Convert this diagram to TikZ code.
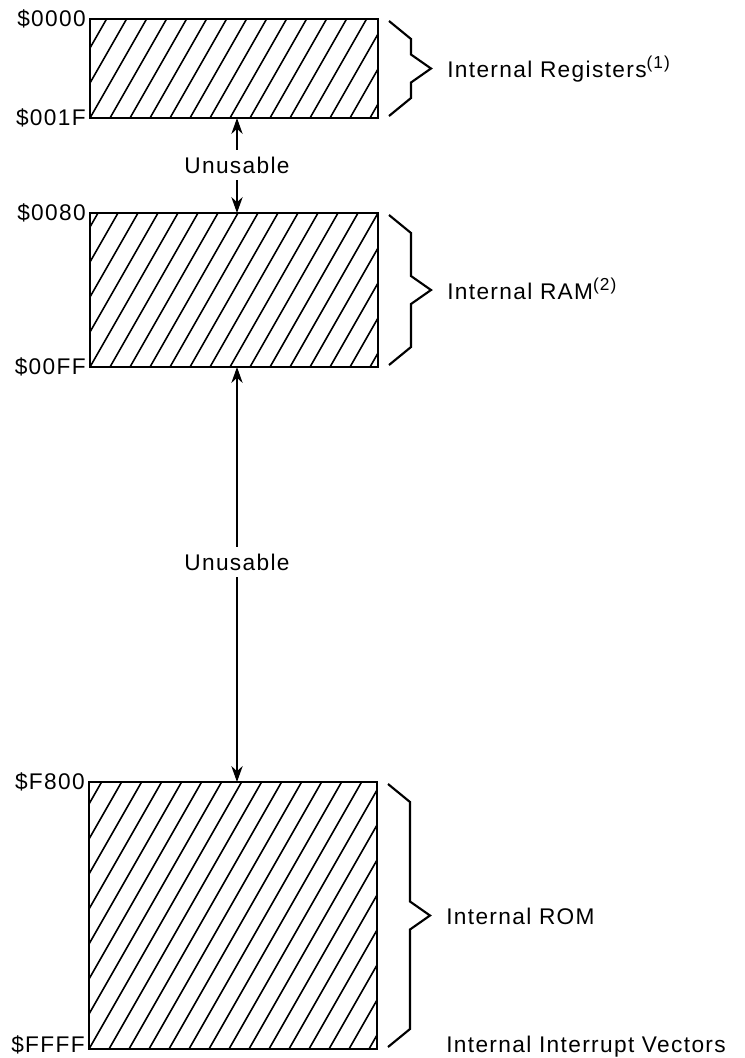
\documentclass[tikz,border=0pt]{standalone}
\usepackage{fontspec}
\setmainfont{Liberation Sans}[LetterSpace=6]
\usepackage{tikz}
\usetikzlibrary{positioning,calc,arrows.meta}
\tikzset{
  % --- memory blocks with diagonal hatching ---
  membox/.style={draw=black, line width=2pt, rectangle, inner sep=0pt,
                 outer sep=0pt, minimum width=216pt, anchor=north west,
                 hatched},
  hatched/.style={path picture={
      \foreach \k in {-9,...,15}
        \draw[line width=1.2pt]
          ([xshift=\k*15pt]path picture bounding box.south west)
          -- ++(120pt,210pt);}},
  % --- address labels and range texts ---
  addr/.style={anchor=east, inner sep=0pt, xshift=-3pt},
  rangetext/.style={anchor=base west, inner sep=0pt},
  gaptext/.style={inner sep=5pt},
  % --- angular braces and the unusable gaps ---
  brace/.style={line width=1.6pt, line join=miter},
  gaparrow/.style={line width=0.9pt, -{Stealth[length=12pt,width=8.5pt]}},
}
% note number raised after a range text
\newcommand{\noteref}[1]{\raisebox{6.5pt}{\fontsize{13}{13}\selectfont(#1)}}
% angular brace on the right of a memory block, tip named <block>-tip
\newcommand{\membrace}[1]{%
  \draw[brace] ([shift={(11,2)}]#1.north east)
    -- ([shift={(33,20)}]#1.north east)
    -- ([shift={(33,-14)}]#1.east)
    -- ([shift={(53,0)}]#1.east) coordinate (#1-tip)
    -- ([shift={(33,14)}]#1.east)
    -- ([shift={(33,-20)}]#1.south east)
    -- ([shift={(11,-2)}]#1.south east);}

\begin{document}
\begin{tikzpicture}[x=0.75pt, y=-0.75pt, font=\fontsize{17}{20}\selectfont]
  \useasboundingbox (0,0) rectangle (744,1058);

  % --- the three blocks ---
  \node[membox, minimum height=74.25pt]  (regs) at (90,19)  {};
  \node[membox, minimum height=115.5pt]  (ram)  at (90,213) {};
  \node[membox, minimum height=200.25pt] (rom)  at (89,782) {};

  % --- addresses ---
  \node[addr] (a0000) at (regs.north west) {\$0000};
  \node[addr] (a001f) at (regs.south west) {\$001F};
  \node[addr] (a0080) at (ram.north west)  {\$0080};
  \node[addr] (a00ff) at (ram.south west)  {\$00FF};
  \node[addr] (af800) at (rom.north west)  {\$F800};
  \node[addr, yshift=3pt] (affff) at (rom.south west) {\$FFFF};

  % --- braces and what they hold ---
  \membrace{regs}
  \membrace{ram}
  \membrace{rom}
  \node[rangetext] (regs-txt) at ([shift={(16,9)}]regs-tip)
        {Internal Registers\noteref{1}};
  \node[rangetext] (ram-txt) at ([shift={(16,9)}]ram-tip)
        {Internal RAM\noteref{2}};
  \node[rangetext] (rom-txt) at ([shift={(16,9)}]rom-tip) {Internal ROM};
  \node[rangetext] (vec-txt) at ([shift={(69,3)}]rom.south east)
        {Internal Interrupt Vectors};

  % --- unusable gaps ---
  \node[gaptext] (gap1) at (237,165) {Unusable};
  \node[gaptext] (gap2) at (237,562) {Unusable};
  \draw[gaparrow] (gap1) -- (gap1 |- regs.south);
  \draw[gaparrow] (gap1) -- (gap1 |- ram.north);
  \draw[gaparrow] (gap2) -- (gap2 |- ram.south);
  \draw[gaparrow] (gap2) -- (gap2 |- rom.north);
\end{tikzpicture}
\end{document}
